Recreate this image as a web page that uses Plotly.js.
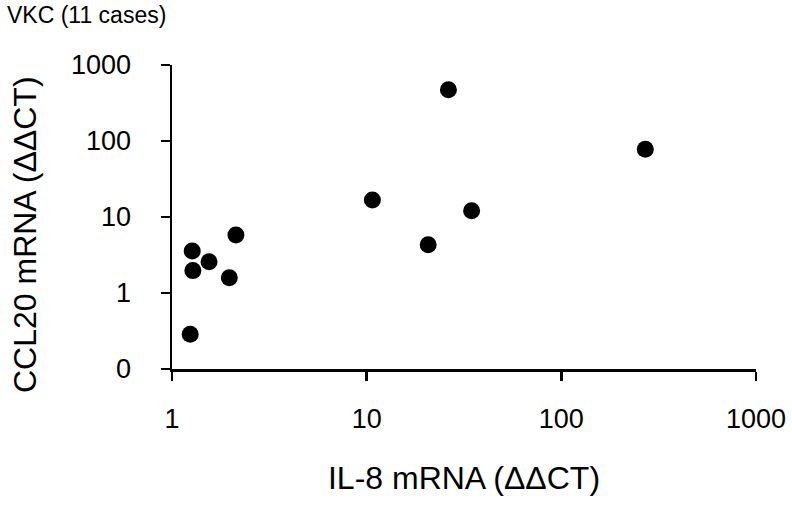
<!DOCTYPE html>
<html>
<head>
<meta charset="utf-8">
<script src="https://cdn.plot.ly/plotly-3.0.1.min.js"></script>
<style>html,body{margin:0;padding:0;background:#fff;}#chart{width:792px;height:506px;}</style>
</head>
<body>
<div id="chart"></div>
<script>
// IL-8 mRNA (ΔΔCT) per case
const il8 = [1.24, 1.27, 1.28, 1.55, 1.97, 2.13, 10.7, 20.7, 26.3, 34.6, 270];
// CCL20 mRNA (ΔΔCT) per case
const ccl20 = [0.286, 3.57, 1.97, 2.58, 1.59, 5.8, 16.7, 4.32, 473, 12.1, 77.8];

const xTickVals = [1, 10, 100, 1000];
const xTickText = ['1', '10', '100', '1000'];
const yTickVals = [0.1, 1, 10, 100, 1000];
const yTickText = ['0', '1', '10', '100', '1000'];

const FONT = 'Liberation Sans, Arial, Helvetica, sans-serif';

const trace = {
  type: 'scatter',
  mode: 'markers',
  x: il8,
  y: ccl20,
  marker: {size: 17, color: '#000000'},
  cliponaxis: false,
  hoverinfo: 'x+y'
};

const axisCommon = {
  type: 'log',
  showgrid: false,
  zeroline: false,
  showline: true,
  linecolor: '#000',
  linewidth: 2.5,
  ticks: 'outside',
  ticklen: 9,
  tickwidth: 2.5,
  tickcolor: '#000',
  tickfont: {family: FONT, size: 27, color: '#000'}
};

const layout = {
  width: 792,
  height: 506,
  paper_bgcolor: '#fff',
  plot_bgcolor: '#fff',
  showlegend: false,
  margin: {l: 172, r: 36, t: 65, b: 137},
  title: {
    text: 'VKC (11 cases)',
    x: 7 / 792, xanchor: 'left',
    y: 1 - 15 / 506, yanchor: 'middle',
    font: {family: FONT, size: 23, color: '#000'}
  },
  xaxis: Object.assign({}, axisCommon, {
    range: [0, 3],
    tickvals: xTickVals,
    ticktext: xTickText,
    ticklabelstandoff: 15,
    title: {text: 'IL-8 mRNA (ΔΔCT)', standoff: 34, font: {family: FONT, size: 32, color: '#000'}}
  }),
  yaxis: Object.assign({}, axisCommon, {
    range: [-1, 3],
    tickvals: yTickVals,
    ticktext: yTickText,
    ticklabelstandoff: 24
  }),
  annotations: [{
    text: 'CCL20 mRNA (ΔΔCT)',
    textangle: -90,
    xref: 'paper', yref: 'paper',
    x: (25 - 172) / 584, y: (369 - 235) / 304,
    xanchor: 'center', yanchor: 'middle',
    showarrow: false,
    font: {family: FONT, size: 32, color: '#000'}
  }]
};

Plotly.newPlot('chart', [trace], layout, {displayModeBar: false, staticPlot: true});
</script>
</body>
</html>
